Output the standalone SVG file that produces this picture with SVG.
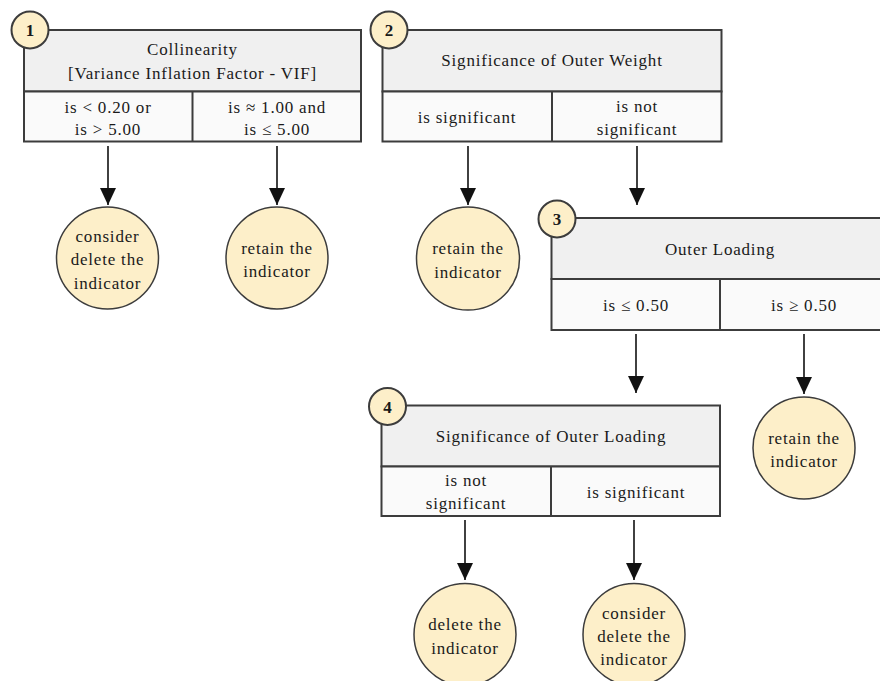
<svg xmlns="http://www.w3.org/2000/svg" width="880" height="681" viewBox="0 0 880 681">
<style>
.hd{fill:#f0f0f0;stroke:#3c3c3c;stroke-width:2}
.cl{fill:#fafafa;stroke:#3c3c3c;stroke-width:2}
.dv{stroke:#3c3c3c;stroke-width:2}
text{font-family:"Liberation Serif","DejaVu Serif","Noto Serif",serif}
.t{font-size:17px;letter-spacing:0.8px;fill:#1a1a1a;text-anchor:middle}
.bd{fill:#fdefc9;stroke:#3c3c3c;stroke-width:2}
.bn{font-size:17px;font-weight:bold;fill:#1a1a1a;text-anchor:middle}
.oc{fill:#fdefc9;stroke:#3c3c3c;stroke-width:1.5}
.ar{stroke:#111;stroke-width:1.6;fill:none;marker-end:url(#ah)}
</style>
<defs>
<marker id="ah" markerUnits="userSpaceOnUse" markerWidth="17" markerHeight="16" refX="17" refY="8" orient="auto">
<path d="M0,0 L17,8 L0,16 Z" fill="#111"/>
</marker>
</defs>
<rect width="880" height="681" fill="#fff"/>

<g id="connectors">
<line class="ar" x1="108" y1="146" x2="108" y2="205"/>
<line class="ar" x1="277" y1="146" x2="277" y2="205"/>
<line class="ar" x1="468" y1="146" x2="468" y2="205"/>
<line class="ar" x1="637" y1="146" x2="637" y2="205"/>
<line class="ar" x1="636" y1="334" x2="636" y2="393"/>
<line class="ar" x1="804" y1="334" x2="804" y2="394"/>
<line class="ar" x1="465" y1="520" x2="465" y2="580"/>
<line class="ar" x1="634" y1="520" x2="634" y2="580"/>
</g>

<g id="node1">
<rect class="hd" x="24" y="30" width="337" height="61.5"/>
<rect class="cl" x="24" y="91.5" width="337" height="50"/>
<line class="dv" x1="192.5" y1="91.5" x2="192.5" y2="141.5"/>
<text class="t" x="192.5" y="55">Collinearity</text>
<text class="t" x="192.5" y="79">[Variance Inflation Factor - VIF]</text>
<text class="t" x="108" y="112.5">is &lt; 0.20 or</text>
<text class="t" x="108" y="135">is &gt; 5.00</text>
<text class="t" x="277" y="112.5">is ≈ 1.00 and</text>
<text class="t" x="277" y="135">is ≤ 5.00</text>
<circle class="bd" cx="30" cy="30" r="18.5"/>
<text class="bn" x="30" y="36">1</text>
</g>

<g id="node2">
<rect class="hd" x="382.5" y="30" width="339" height="61.5"/>
<rect class="cl" x="382.5" y="91.5" width="339" height="50"/>
<line class="dv" x1="552" y1="91.5" x2="552" y2="141.5"/>
<text class="t" x="552" y="66">Significance of Outer Weight</text>
<text class="t" x="467" y="123">is significant</text>
<text class="t" x="637" y="111.5">is not</text>
<text class="t" x="637" y="135">significant</text>
<circle class="bd" cx="389" cy="30" r="18.5"/>
<text class="bn" x="389" y="36">2</text>
</g>

<g id="node3">
<rect class="hd" x="551.5" y="218" width="337" height="61"/>
<rect class="cl" x="551.5" y="279" width="337" height="51"/>
<line class="dv" x1="720" y1="279" x2="720" y2="330"/>
<text class="t" x="720" y="255">Outer Loading</text>
<text class="t" x="636" y="310.5">is ≤ 0.50</text>
<text class="t" x="804" y="310.5">is ≥ 0.50</text>
<circle class="bd" cx="557" cy="219" r="18.5"/>
<text class="bn" x="557" y="225">3</text>
</g>

<g id="node4">
<rect class="hd" x="381.5" y="405.5" width="338.5" height="61"/>
<rect class="cl" x="381.5" y="466.5" width="338.5" height="49.5"/>
<line class="dv" x1="551" y1="466.5" x2="551" y2="516"/>
<text class="t" x="551" y="441.5">Significance of Outer Loading</text>
<text class="t" x="466" y="486">is not</text>
<text class="t" x="466" y="509">significant</text>
<text class="t" x="636" y="498">is significant</text>
<circle class="bd" cx="387.5" cy="406.5" r="18.5"/>
<text class="bn" x="387.5" y="412.5">4</text>
</g>

<g id="out1">
<circle class="oc" cx="107.5" cy="258" r="51"/>
<text class="t" x="107.5" y="242">consider</text>
<text class="t" x="107.5" y="265">delete the</text>
<text class="t" x="107.5" y="288.5">indicator</text>
</g>
<g id="out2">
<circle class="oc" cx="277" cy="258" r="51"/>
<text class="t" x="277" y="253.5">retain the</text>
<text class="t" x="277" y="277">indicator</text>
</g>
<g id="out3">
<circle class="oc" cx="468" cy="258.5" r="51.5"/>
<text class="t" x="468" y="254">retain the</text>
<text class="t" x="468" y="277.5">indicator</text>
</g>
<g id="out4">
<circle class="oc" cx="804" cy="448" r="51"/>
<text class="t" x="804" y="443.5">retain the</text>
<text class="t" x="804" y="467">indicator</text>
</g>
<g id="out5">
<circle class="oc" cx="465" cy="634.5" r="51"/>
<text class="t" x="465" y="630">delete the</text>
<text class="t" x="465" y="653.5">indicator</text>
</g>
<g id="out6">
<circle class="oc" cx="634" cy="634.5" r="51"/>
<text class="t" x="634" y="618.5">consider</text>
<text class="t" x="634" y="642">delete the</text>
<text class="t" x="634" y="665">indicator</text>
</g>
</svg>
